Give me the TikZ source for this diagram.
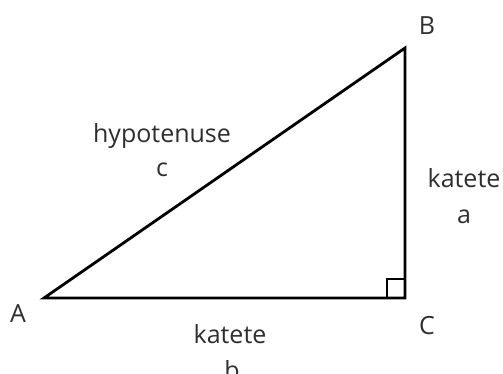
\documentclass[tikz,border=0pt]{standalone}
\usepackage{fontspec}
\setmainfont{Open Sans}
\definecolor{txt}{HTML}{2E2E2E}
\begin{document}
\begin{tikzpicture}[x=1pt,y=-1pt,
  side/.style={line width=2.8pt,line join=miter,black},
  lbl/.style={text=txt,font=\fontsize{25}{30}\selectfont,inner sep=0pt,anchor=base}]
\useasboundingbox (0,0) rectangle (503,373);
\coordinate (A) at (44,298);
\coordinate (B) at (405,48);
\coordinate (C) at (405,298);
\draw[side] (A) -- (B) -- (C) -- cycle;
\draw[side,line width=2.4pt] (387,298) -- (387,279) -- (405,279);
\node[lbl] (lA) at (18,322) {A};
\node[lbl] (lB) at (427,34) {B};
\node[lbl] (lC) at (427,334) {C};
\node[lbl] (hyp) at (162,142) {hypotenuse};
\node[lbl] (lc) at (162,176) {c};
\node[lbl] (ka) at (464,187) {katete};
\node[lbl] (la) at (464,223) {a};
\node[lbl] (kb) at (230,343) {katete};
\node[lbl] (lb) at (232,379) {b};
\end{tikzpicture}
\end{document}
